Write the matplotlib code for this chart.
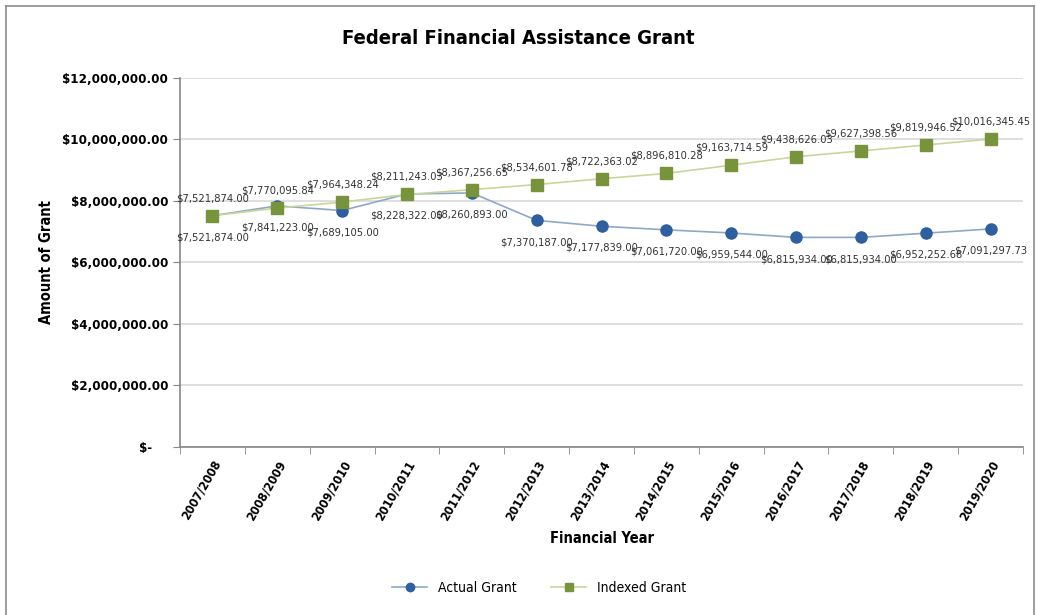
import matplotlib.pyplot as plt
from matplotlib.lines import Line2D
from matplotlib import font_manager
import numpy as np

years = ['2007/2008', '2008/2009', '2009/2010', '2010/2011', '2011/2012', '2012/2013',
         '2013/2014', '2014/2015', '2015/2016', '2016/2017', '2017/2018', '2018/2019', '2019/2020']
actual = [7521874.00, 7841223.00, 7689105.00, 8228322.00, 8260893.00, 7370187.00, 7177839.00,
          7061720.00, 6959544.00, 6815934.00, 6815934.00, 6952252.68, 7091297.73]
indexed = [7521874.00, 7770095.84, 7964348.24, 8211243.03, 8367256.65, 8534601.78, 8722363.02,
           8896810.28, 9163714.59, 9438626.03, 9627398.56, 9819946.52, 10016345.45]
yticks = [0, 2000000, 4000000, 6000000, 8000000, 10000000, 12000000]

# narrow-ish face to stand in for Arial Narrow
fonts = font_manager.fontManager.ttflist
names = {f.name for f in fonts}
if 'Liberation Sans Narrow' in names:
    plt.rcParams['font.family'] = ['Liberation Sans Narrow', 'DejaVu Sans']
elif any(f.name == 'DejaVu Sans' and f.stretch == 'condensed' for f in fonts):
    plt.rcParams['font.family'] = ['DejaVu Sans']
    plt.rcParams['font.stretch'] = 'condensed'
else:
    plt.rcParams['font.family'] = ['Liberation Sans', 'DejaVu Sans']

fig = plt.figure(figsize=(10.37, 6.15), dpi=100)
ax = fig.add_axes([0.1736, 0.2732, 0.8129, 0.600])

# outer chart border
for xs, ys in [([0.006, 0.006], [0.0, 0.99]), ([0.006, 0.997], [0.99, 0.99]), ([0.997, 0.997], [0.0, 0.99])]:
    fig.add_artist(Line2D(xs, ys, transform=fig.transFigure, color='#8c8c8c', lw=1.2))

x = np.arange(len(years))
blue_line = '#8fa8c8'
blue_mark = '#2e5f9e'
green_line = '#c9d69a'
green_mark = '#77933c'

ax.plot(x, actual, color=blue_line, lw=1.2, marker='o', ms=8, mfc=blue_mark, mec=blue_mark, zorder=3, label='Actual Grant')
ax.plot(x, indexed, color=green_line, lw=1.2, marker='s', ms=8, mfc=green_mark, mec=green_mark, zorder=4, label='Indexed Grant')

def money(v):
    return '${:,.2f}'.format(v)

for i in range(len(years)):
    ax.annotate(money(actual[i]), (x[i], actual[i]), xytext=(0, -12), textcoords='offset points',
                ha='center', va='top', fontsize=8, color='#333333')
    ax.annotate(money(indexed[i]), (x[i], indexed[i]), xytext=(0, 9), textcoords='offset points',
                ha='center', va='bottom', fontsize=8, color='#333333')

ax.set_xlim(-0.5, len(years) - 0.5)
ax.set_ylim(0, 12000000)
ax.set_yticks(yticks)
ax.set_yticklabels(['$-    '] + [money(v) for v in yticks[1:]], fontsize=9.5, fontweight='bold')
ax.yaxis.grid(True, color='#d9d9d9', lw=1.2)
ax.set_axisbelow(True)

ax.set_xticks(x)
ax.set_xticklabels(years, rotation=60, ha='right', rotation_mode='anchor', fontsize=9, fontweight='bold')
ax.tick_params(axis='x', length=0, pad=8)
ax.set_xticks(np.arange(-0.5, len(years)), minor=True)
ax.tick_params(axis='x', which='minor', length=5, color='#868686')
ax.tick_params(axis='y', length=5, color='#868686')

for s in ['top', 'right']:
    ax.spines[s].set_visible(False)
for s in ['left', 'bottom']:
    ax.spines[s].set_color('#868686')
    ax.spines[s].set_linewidth(1.2)

ax.set_xlabel('Financial Year', fontsize=10.5, fontweight='bold', labelpad=6)
ax.set_ylabel('Amount of Grant', fontsize=10.5, fontweight='bold', labelpad=6)
fig.text(0.5, 0.938, 'Federal Financial Assistance Grant', ha='center', va='center', fontsize=14.5, fontweight='bold')

fig.legend(loc='center', bbox_to_anchor=(0.52, 0.044), ncol=2, frameon=False, fontsize=10,
           handlelength=2.5, columnspacing=2.5, markerscale=0.75)

fig.savefig('out.png', dpi=100)
